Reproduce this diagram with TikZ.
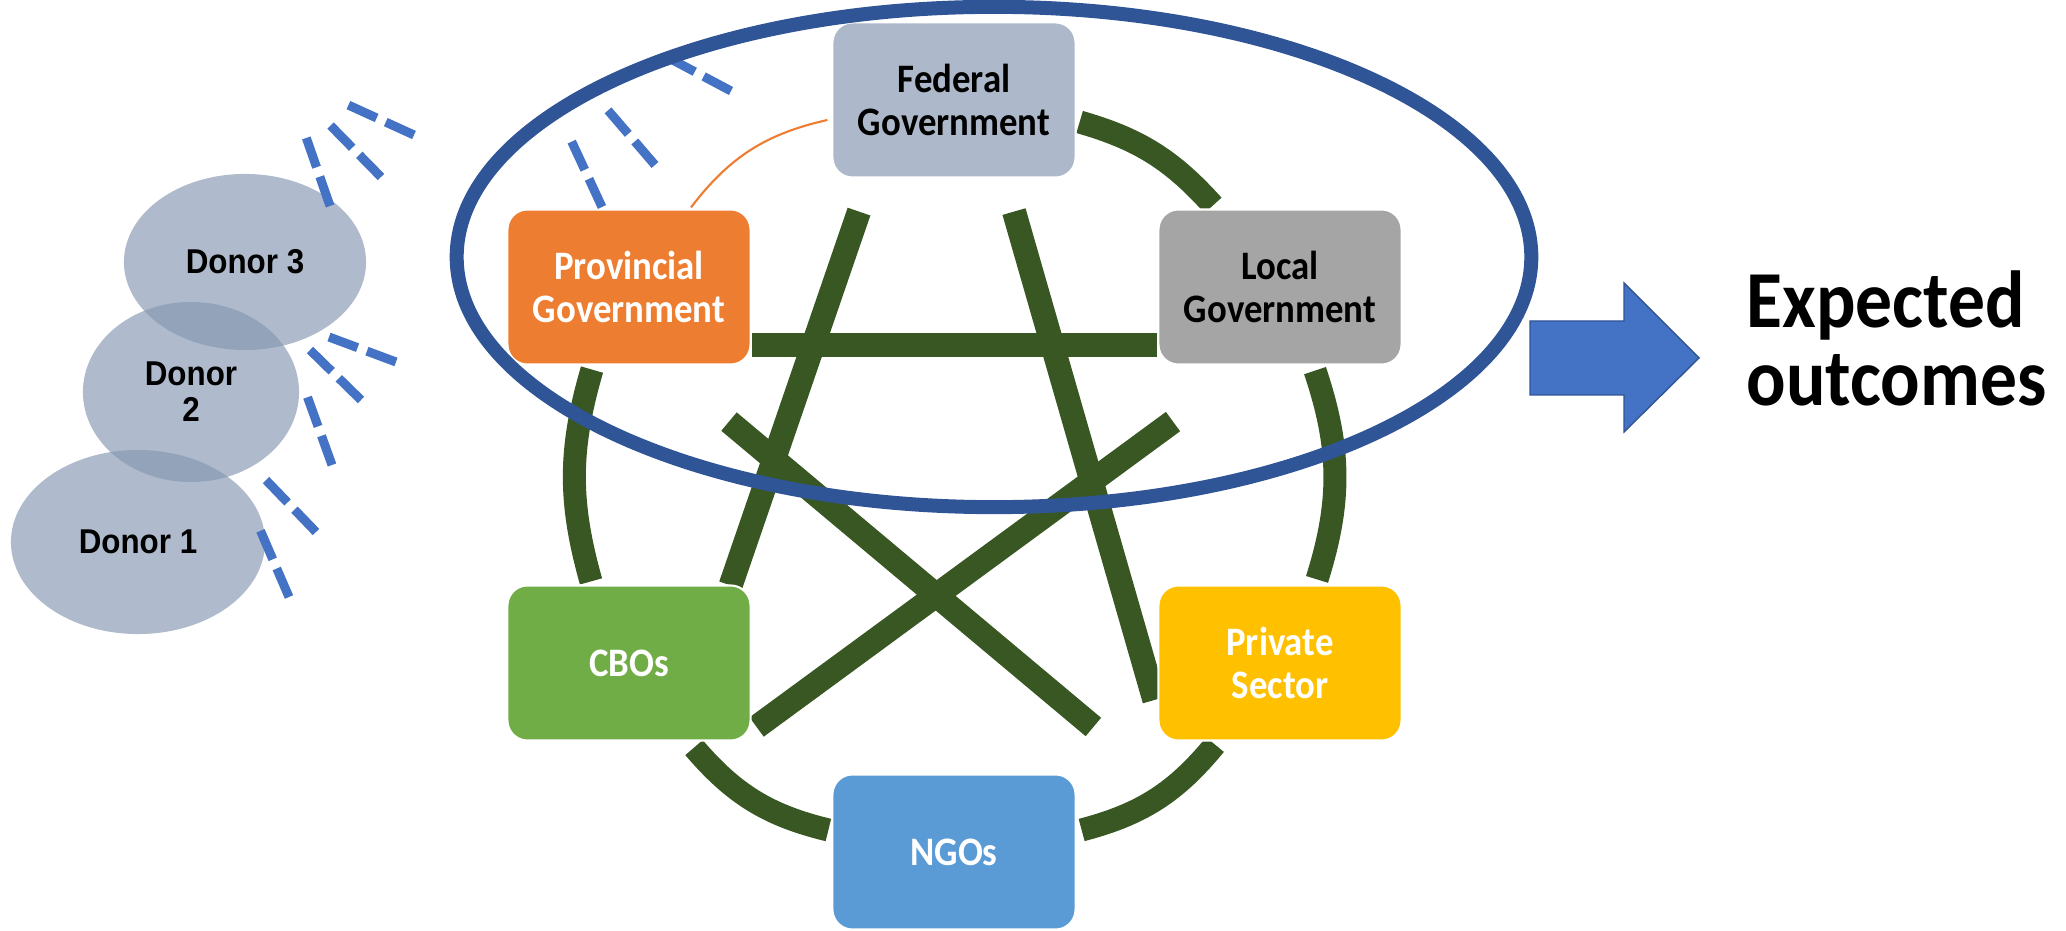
\documentclass[tikz,border=0pt]{standalone}
\usepackage{fontspec}
\setmainfont[FakeStretch=0.91]{Carlito}
\newfontfamily\donorfont[FakeStretch=0.91]{Liberation Sans}
\usetikzlibrary{shapes.geometric,backgrounds}

\definecolor{fedgray}{HTML}{ADB9CA}
\definecolor{provorange}{HTML}{ED7D31}
\definecolor{localgray}{HTML}{A5A5A5}
\definecolor{cbogreen}{HTML}{70AD47}
\definecolor{privyellow}{HTML}{FFC000}
\definecolor{ngoblue}{HTML}{5B9BD5}
\definecolor{tiegreen}{HTML}{385723}
\definecolor{raysblue}{HTML}{4472C4}
\definecolor{ringblue}{HTML}{2F5597}
\definecolor{donorfill}{HTML}{8497B0}

\begin{document}
\begin{tikzpicture}[x=0.01cm, y=-0.01cm,
    actor/.style={rectangle, rounded corners=0.2cm, draw=white, line width=0.6pt, minimum width=2.43cm, minimum height=1.55cm, align=center, font=\bfseries\fontsize{11.5}{12.3}\selectfont},
    donor/.style={ellipse, fill=donorfill, fill opacity=0.65, text opacity=1, inner sep=0pt, align=center, font=\donorfont\bfseries\fontsize{9.8}{10.3}\selectfont},
    tie/.style={tiegreen, line width=0.24cm},
    ring/.style={tiegreen, line width=0.23cm},
    ray/.style={raysblue, line width=0.09cm, dash pattern=on 0.31cm off 0.1cm}]
        \useasboundingbox (0,0) rectangle (2066,931);

        \node[actor, fill=fedgray] (fed) at (954,100) {Federal\\Government};
        \node[actor, fill=provorange, text=white] (prov) at (629,287) {Provincial\\Government};
        \node[actor, fill=localgray] (loc) at (1280,287) {Local\\Government};
        \node[actor, fill=cbogreen, text=white] (cbo) at (629,663) {CBOs};
        \node[actor, fill=privyellow, text=white] (priv) at (1280,663) {Private\\Sector};
        \node[actor, fill=ngoblue, text=white] (ngo) at (954,852) {NGOs};

        \begin{pgfonlayer}{background}
        \draw[tie] ([shift={(0,58)}]prov.east) -- ([shift={(0,58)}]loc.west);
        \draw[tie] ([shift={(-95,33)}]fed.south) -- ([shift={(-21,1)}]cbo.north east);
        \draw[tie] ([shift={(60,33)}]fed.south) -- ([shift={(-3,37)}]priv.west);
        \draw[tie] ([shift={(-107,56)}]loc.south) -- ([shift={(5,64)}]cbo.east);
        \draw[tie] ([shift={(100,56)}]prov.south) -- ([shift={(-64,64)}]priv.west);

        \draw[ring] ([shift={(3,22)}]fed.east) to[bend left=16] ([shift={(-67,-3)}]loc.north);
        \draw[ring] ([shift={(35,5)}]loc.south) to[bend left=18] ([shift={(37,-5)}]priv.north);
        \draw[ring] ([shift={(-65,3)}]priv.south) to[bend left=18] ([shift={(5,-22)}]ngo.east);
        \draw[ring] ([shift={(-3,-22)}]ngo.west) to[bend left=18] ([shift={(65,6)}]cbo.south);
        \draw[ring] ([shift={(-38,-3)}]cbo.north) to[bend left=16] ([shift={(-37,4)}]prov.south);
        \draw[provorange, line width=0.6pt] ([shift={(62,-1)}]prov.north) to[bend left=20] ([shift={(-4,20)}]fed.west);
        \end{pgfonlayer}

        \node[donor, minimum width=2.54cm, minimum height=1.84cm] (d1) at (138,542) {Donor 1};
        \node[donor, minimum width=2.16cm, minimum height=1.8cm] (d2) at (191,392) {Donor\\2};
        \node[donor, minimum width=2.42cm, minimum height=1.76cm] (d3) at (245,262) {Donor 3};

        \draw[ray] ([shift={(85,-56)}]d3.center) -- ++(-24,-69);
        \draw[ray] ([shift={(136,-85)}]d3.center) -- ++(-52,-53);
        \draw[ray] ([shift={(169,-127)}]d3.center) -- ++(-68,-31);
        \draw[ray] ([shift={(205,-30)}]d2.center) -- ++(-67,-25);
        \draw[ray] ([shift={(170,8)}]d2.center) -- ++(-51,-50);
        \draw[ray] ([shift={(141,73)}]d2.center) -- ++(-26,-72);
        \draw[ray] ([shift={(178,-10)}]d1.center) -- ++(-52,-54);
        \draw[ray] ([shift={(151,55)}]d1.center) -- ++(-31,-72);
        \draw[ray] ([shift={(-27,-80)}]prov.center) -- ++(-32,-69);
        \draw[ray] ([shift={(26,-122)}]prov.center) -- ++(-49,-57);
        \draw[ray] ([shift={(102,-196)}]prov.center) -- ++(-64,-34);

        \draw[ringblue, line width=0.14cm] (994,257) ellipse [x radius=5.37cm, y radius=2.5cm];

        \fill[raysblue, draw=ringblue, line width=0.4pt] (1530,321) -- (1624,321) -- (1624,283) -- (1699,358) -- (1624,432) -- (1624,395) -- (1530,395) -- cycle;
        \node[anchor=west, align=left, inner sep=0pt, font=\bfseries\fontsize{23}{22.2}\selectfont] (outcome) at (1746,338) {Expected\\outcomes};

        \end{tikzpicture}
\end{document}
